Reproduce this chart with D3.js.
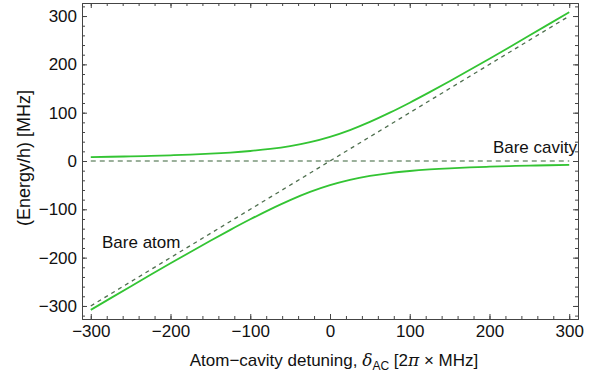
<!DOCTYPE html>
<html>
<head>
<meta charset="utf-8">
<script src="https://cdn.jsdelivr.net/npm/d3@7"></script>
<style>
  body { margin: 0; background: #fff; }
  text { font-family: "Liberation Sans", Arial, sans-serif; }
</style>
</head>
<body>
<div id="chart-area"></div>
<script>
// detuning values (MHz)
var detuning = [-300, -275, -250, -225, -200, -175, -150, -125, -100, -75, -50, -25,
                0, 25, 50, 75, 100, 125, 150, 175, 200, 225, 250, 275, 300];
// upper dressed state
var upperBranch = [8.1, 8.8, 9.6, 10.6, 11.8, 13.3, 15.1, 17.5, 20.7, 25.0, 30.9, 39.0,
                   50.0, 64.0, 80.9, 100.0, 120.7, 142.5, 165.1, 188.3, 211.8, 235.6, 259.6, 283.8, 308.1];
// lower dressed state
var lowerBranch = [-308.1, -283.8, -259.6, -235.6, -211.8, -188.3, -165.1, -142.5, -120.7, -100.0, -80.9, -64.0,
                   -50.0, -39.0, -30.9, -25.0, -20.7, -17.5, -15.1, -13.3, -11.8, -10.6, -9.6, -8.8, -8.1];
// bare states (dashed)
var bareX = [-300, 300];
var bareAtom = [-300, 300];
var bareCavity = [0, 0];

var majorTicks = [-300, -200, -100, 0, 100, 200, 300];
var minorTicksX = d3.range(-300, 301, 20);
var minorTicksY = d3.range(-320, 321, 20);

var W = 598, H = 376;
var frame = { left: 82, right: 578, top: 3, bottom: 319 };

var svg = d3.select("#chart-area").append("svg")
  .attr("width", W).attr("height", H);

var x = d3.scaleLinear().domain([-311, 311]).range([frame.left, frame.right]);
var y = d3.scaleLinear().domain([-327, 327]).range([frame.bottom, frame.top]);

function fmt(d) { return d < 0 ? "\u2212" + Math.abs(d) : String(d); }

svg.append("clipPath").attr("id", "clip").append("rect")
  .attr("x", frame.left).attr("y", frame.top)
  .attr("width", frame.right - frame.left).attr("height", frame.bottom - frame.top);

var plot = svg.append("g").attr("clip-path", "url(#clip)");

// dashed bare lines
var dashLine = d3.line().x(function(d) { return x(d[0]); }).y(function(d) { return y(d[1]); });
plot.append("path")
  .datum(bareX.map(function(v, i) { return [v, bareCavity[i]]; }))
  .attr("d", dashLine).attr("fill", "none")
  .attr("stroke", "#7b977b").attr("stroke-width", 1.6).attr("stroke-dasharray", "5,4");
plot.append("path")
  .datum(bareX.map(function(v, i) { return [v, bareAtom[i]]; }))
  .attr("d", dashLine).attr("fill", "none")
  .attr("stroke", "#4f6f4f").attr("stroke-width", 1.3).attr("stroke-dasharray", "4,4");

// dressed states
var curve = d3.line().curve(d3.curveMonotoneX)
  .x(function(d) { return x(d[0]); }).y(function(d) { return y(d[1]); });
[upperBranch, lowerBranch].forEach(function(series) {
  plot.append("path")
    .datum(detuning.map(function(v, i) { return [v, series[i]]; }))
    .attr("d", curve).attr("fill", "none")
    .attr("stroke", "#33c433").attr("stroke-width", 1.8);
});

// frame axes
var frameColor = "#444";
function styleAxis(g) {
  g.select(".domain").attr("stroke", frameColor);
  g.selectAll(".tick line").attr("stroke", frameColor);
  g.selectAll(".tick text").attr("fill", "#111").attr("font-size", "17px");
}
function addAxis(axisFn, scale, ticks, size, labels, transform) {
  var a = axisFn(scale).tickValues(ticks).tickSizeInner(size).tickSizeOuter(0);
  if (labels) a.tickFormat(fmt).tickPadding(4 - size); else a.tickFormat("");
  var g = svg.append("g").attr("transform", transform).call(a);
  styleAxis(g);
  return g;
}
// minor ticks
addAxis(d3.axisBottom, x, minorTicksX, -3, false, "translate(0," + frame.bottom + ")");
addAxis(d3.axisTop, x, minorTicksX, -3, false, "translate(0," + frame.top + ")");
addAxis(d3.axisLeft, y, minorTicksY, -3, false, "translate(" + frame.left + ",0)");
addAxis(d3.axisRight, y, minorTicksY, -3, false, "translate(" + frame.right + ",0)");
// major ticks
var xb = addAxis(d3.axisBottom, x, majorTicks, -5, true, "translate(0," + frame.bottom + ")");
xb.selectAll(".tick text").attr("dy", "0.71em").attr("y", 6);
addAxis(d3.axisTop, x, majorTicks, -5, false, "translate(0," + frame.top + ")");
var yl = addAxis(d3.axisLeft, y, majorTicks, -5, true, "translate(" + frame.left + ",0)");
yl.selectAll(".tick text").attr("x", -5);
addAxis(d3.axisRight, y, majorTicks, -5, false, "translate(" + frame.right + ",0)");

// axis labels
var xLabel = svg.append("text")
  .attr("x", 334).attr("y", 366)
  .attr("text-anchor", "middle").attr("font-size", "17px").attr("fill", "#111");
xLabel.append("tspan").text("Atom\u2212cavity detuning, ");
xLabel.append("tspan").attr("font-family", "'DejaVu Serif', serif").attr("font-style", "italic").text("\u03b4");
xLabel.append("tspan").attr("font-size", "12px").attr("dy", 4).text("AC");
xLabel.append("tspan").attr("dy", -4).text(" [2");
xLabel.append("tspan").attr("font-family", "'DejaVu Serif', serif").attr("font-style", "italic").text("\u03c0");
xLabel.append("tspan").text(" \u00d7 MHz]");

svg.append("text")
  .attr("transform", "translate(30,158) rotate(-90)")
  .attr("text-anchor", "middle").attr("font-size", "18px").attr("fill", "#111")
  .text("(Energy/h) [MHz]");

// annotations
svg.append("text").attr("x", 577).attr("y", 153).attr("text-anchor", "end")
  .attr("font-size", "17px").attr("fill", "#111").text("Bare cavity");
svg.append("text").attr("x", 102).attr("y", 248)
  .attr("font-size", "17px").attr("fill", "#111").text("Bare atom");
</script>
</body>
</html>
